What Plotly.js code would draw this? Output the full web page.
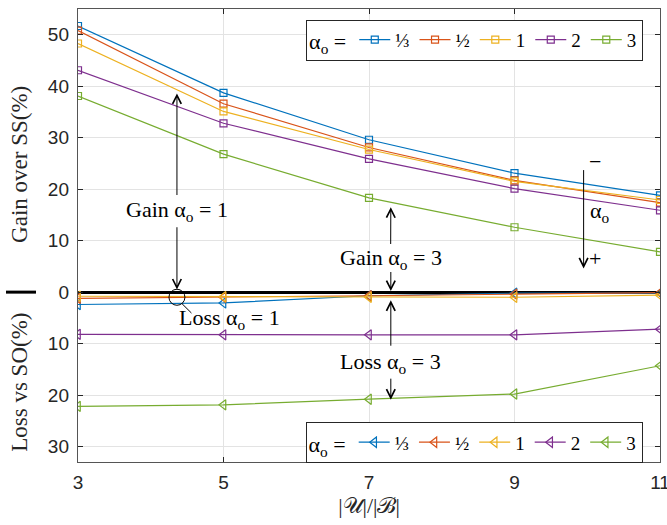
<!DOCTYPE html>
<html>
<head>
<meta charset="utf-8">
<script src="https://cdn.plot.ly/plotly-3.0.1.min.js"></script>
<style>html,body{margin:0;padding:0;background:#fff;}#chart{width:667px;height:525px;}</style>
</head>
<body>
<div id="chart"></div>
<script>
// ---- data ----
var ratio = [3, 5, 7, 9, 11];
var alphaLabels = ['⅓', '½', '1', '2', '3'];
var colors = ['#0072BD', '#D95319', '#EDB120', '#7E2F8E', '#77AC30'];
// Gain over SS (%)
var gain13 = [51.7, 38.7, 29.6, 23.1, 18.8];
var gain12 = [50.8, 36.6, 28.1, 21.7, 17.4];
var gain1  = [48.3, 35.1, 27.7, 21.5, 17.9];
var gain2  = [43.1, 32.8, 25.9, 20.1, 15.9];
var gain3  = [38.1, 26.8, 18.3, 12.6, 7.8];
// Loss vs SO (%) drawn below zero
var loss13 = [-2.4, -2.1, -0.7, -0.2, -0.2];
var loss12 = [-1.2, -1.0, -0.7, -0.4, -0.1];
var loss1  = [-0.8, -0.9, -1.0, -1.0, -0.6];
var loss2  = [-8.2, -8.3, -8.3, -8.3, -7.2];
var loss3  = [-22.2, -21.9, -20.8, -19.8, -14.3];
var yTickVals = [-30, -20, -10, 0, 10, 20, 30, 40, 50];
var yTickText = ['30', '20', '10', '0', '10', '20', '30', '40', '50'];

var gains = [gain13, gain12, gain1, gain2, gain3];
var losses = [loss13, loss12, loss1, loss2, loss3];

var serif = 'Liberation Serif, Times New Roman, serif';
var traces = [];
gains.forEach(function (g, i) {
  traces.push({
    x: ratio, y: g, type: 'scatter', mode: 'lines+markers',
    name: alphaLabels[i], legend: 'legend',
    line: {color: colors[i], width: 1.2},
    marker: {symbol: 'square-open', size: 7, color: colors[i], line: {width: 1.2}}
  });
});
losses.forEach(function (l, i) {
  traces.push({
    x: ratio, y: l, type: 'scatter', mode: 'lines+markers',
    name: alphaLabels[i], legend: 'legend2',
    line: {color: colors[i], width: 1.2},
    marker: {symbol: 'triangle-left-open', size: 9, color: colors[i], line: {width: 1.2}}
  });
});

// annotation: text placed at (tx, ty); optional arrow to (hx, hy)
function note(t, tx, ty, hx, hy, head, size) {
  var a = {xref: 'x', yref: 'y', text: t, xanchor: 'center', yanchor: 'middle',
    font: {family: serif, size: size || 22, color: '#000'}};
  if (hx === undefined) {
    a.x = tx; a.y = ty; a.showarrow = false;
  } else {
    a.x = hx; a.y = hy; a.ax = tx; a.ay = ty; a.axref = 'x'; a.ayref = 'y';
    a.showarrow = true; a.arrowhead = head === undefined ? 5 : head;
    a.arrowsize = 1.7; a.arrowwidth = 1; a.arrowcolor = '#000'; a.standoff = 0;
    a.startstandoff = 0;
  }
  return a;
}

var annotations = [
  note('Gain α<sub>o</sub> = 1', 4.36, 15.85, 4.36, 38.6),
  note('Loss α<sub>o</sub> = 1', 5.085, -5.3),
  note('Gain α<sub>o</sub> = 3', 7.297, 6.34, 7.30, 16.5),
  note('Loss α<sub>o</sub> = 3', 7.30, -13.8, 7.30, -20.9),
  note('−', 10.11, 25.4),
  note('α<sub>o</sub>', 10.18, 15.5),
  note('+', 10.11, 6.5),
  note('', 4.36, 12.9, 4.36, 0.5),
  note('', 7.30, 4.2, 7.30, 0.2),
  note('', 7.30, -10.7, 7.30, -1.6),
  note('', 9.95, 24.0, 9.95, 4.6),
  note('', 4.58, -4.35, 4.43, -2.25, 0),
  {xref: 'paper', yref: 'paper', x: -0.0997, y: 0.658, xanchor: 'center', yanchor: 'middle',
    text: 'Gain over SS(%)', textangle: -90,
    showarrow: false, font: {family: serif, size: 23, color: '#262626'}},
  {xref: 'paper', yref: 'paper', x: -0.0997, y: 0.177, xanchor: 'center', yanchor: 'middle',
    text: 'Loss vs SO(%)', textangle: -90,
    showarrow: false, font: {family: serif, size: 23, color: '#262626'}}
];

var legendCommon = {
  orientation: 'h', xanchor: 'right', bgcolor: '#fff', bordercolor: '#262626', borderwidth: 1,
  font: {family: serif, size: 19, color: '#000'}, itemwidth: 31,
  title: {text: 'α<sub>o</sub> =', side: 'left', font: {family: serif, size: 22, color: '#000'}}
};

var layout = {
  width: 667, height: 525,
  margin: {l: 78, r: 7, t: 9, b: 63},
  paper_bgcolor: '#fff', plot_bgcolor: '#fff',
  showlegend: true,
  legend: Object.assign({}, legendCommon, {x: 0.971, y: 0.976, yanchor: 'top'}),
  legend2: Object.assign({}, legendCommon, {x: 0.970, y: -0.003, yanchor: 'bottom'}),
  xaxis: {
    range: [3, 11], tickvals: ratio, ticktext: ratio.map(String),
    showgrid: true, gridcolor: '#e3e3e3', gridwidth: 1,
    showline: true, linecolor: '#555', linewidth: 1.2, mirror: 'ticks',
    ticks: 'inside', ticklen: 5, tickcolor: '#262626', zeroline: false,
    tickfont: {family: 'Liberation Sans, Arial, sans-serif', size: 19, color: '#262626'},
    ticklabelstandoff: 3, ticklabeloverflow: 'allow',
    title: {text: '|𝒰|/|ℬ|', font: {family: serif, size: 22, color: '#262626'}, standoff: 3}
  },
  yaxis: {
    range: [-33, 55], tickvals: yTickVals, ticktext: yTickText,
    showgrid: true, gridcolor: '#e3e3e3', gridwidth: 1,
    showline: true, linecolor: '#555', linewidth: 1.2, mirror: 'ticks',
    ticks: 'inside', ticklen: 5, tickcolor: '#262626',
    zeroline: true, zerolinecolor: '#000', zerolinewidth: 3,
    tickfont: {family: 'Liberation Sans, Arial, sans-serif', size: 19, color: '#262626'},
    ticklabelstandoff: 4
  },
  annotations: annotations,
  shapes: [
    {type: 'circle', xref: 'x', yref: 'y', xsizemode: 'pixel', ysizemode: 'pixel',
      xanchor: 4.36, yanchor: -1.0, x0: -8, x1: 8, y0: -8, y1: 8, line: {color: '#000', width: 1}},
    {type: 'line', xref: 'paper', yref: 'y', x0: -0.1237, x1: -0.0722, y0: 0, y1: 0,
      line: {color: '#000', width: 3}}
  ]
};

Plotly.newPlot('chart', traces, layout, {displayModeBar: false, staticPlot: true});
</script>
</body>
</html>
